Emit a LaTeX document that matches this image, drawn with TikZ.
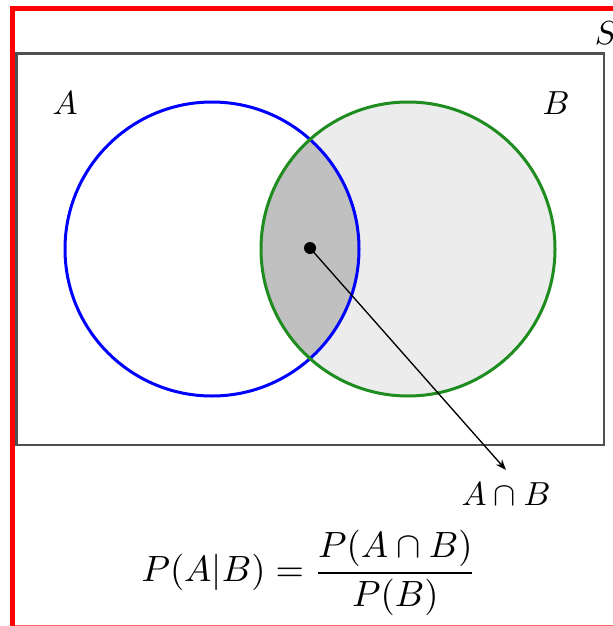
\documentclass[tikz,border=0pt]{standalone}
\usetikzlibrary{arrows.meta}
\definecolor{venngreen}{RGB}{30,140,30}
\definecolor{framegray}{RGB}{80,80,80}
\definecolor{lightfill}{RGB}{236,236,236}
\definecolor{midfill}{RGB}{192,192,192}
\begin{document}
\begin{tikzpicture}[x=0.3pt,y=-0.3pt,
  setline/.style={line width=0.9pt},
  lbl/.style={inner sep=0pt, font=\fontsize{10.3}{12}\selectfont},
  conn/.style={line width=0.4pt, -{Stealth[length=3.2pt,width=2.4pt]}}]
\useasboundingbox (0,0) rectangle (613,626);
% red frame (screenshot border)
\fill[red] (10,6) rectangle (15,626);
\fill[red] (10,6) rectangle (613,11);
\draw[red!60, line width=0.3pt] (15,625) -- (613,625);
% sample space
\draw[framegray, line width=0.65pt] (16.5,53.5) rectangle (604,445);
\node[lbl] (S) at (606,33) {$S$};
% circles
\coordinate (cA) at (212,249);
\coordinate (cB) at (408,249);
\fill[lightfill] (cB) circle[radius=44.1pt];
\begin{scope}
  \clip (cA) circle[radius=44.1pt];
  \fill[midfill] (cB) circle[radius=44.1pt];
\end{scope}
\draw[setline, blue] (cA) circle[radius=44.1pt];
\draw[setline, venngreen] (cB) circle[radius=44.1pt];
\node[lbl] (A) at (65,103) {$A$};
\node[lbl] (B) at (556,103) {$B$};
% intersection point and arrow
\node[circle, fill=black, inner sep=0pt, minimum size=3.6pt] (dot) at (310,248) {};
\coordinate (tip) at (506,470);
\draw[conn] (dot.center) -- (tip);
\node[lbl] (AB) at (506,494) {$A\cap B$};
% formula
\node[inner sep=0pt, font=\fontsize{10.5}{12.6}\selectfont] (formula) at (309,573) {$\displaystyle P(A|B)=\frac{P(A\cap B)}{P(B)}$};
\end{tikzpicture}
\end{document}
